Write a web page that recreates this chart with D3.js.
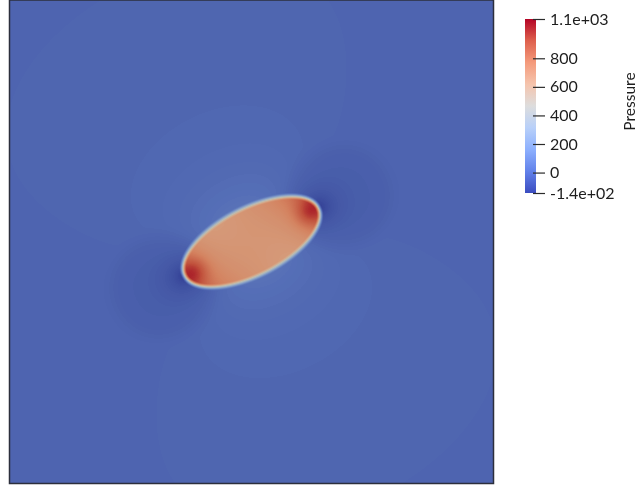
<!DOCTYPE html>
<html>
<head>
<meta charset="utf-8">
<script src="https://cdn.jsdelivr.net/npm/d3@7"></script>
<style>
  body { margin: 0; background: #fff; }
  #wrap { position: relative; width: 636px; height: 488px; }
  #wrap canvas, #wrap svg { position: absolute; left: 0; top: 0; }
</style>
</head>
<body>
<div id="wrap">
  <canvas id="field" width="636" height="488"></canvas>
  <svg id="chart" width="636" height="488"></svg>
</div>
<script>
// ParaView "Cool to Warm" colour map stops
const cmapPos = [0, 0.125, 0.25, 0.375, 0.5, 0.625, 0.75, 0.875, 1];
const cmapColors = ["#3b4cc0", "#6282ea", "#8db0fe", "#b8d0f9", "#dddddd",
                    "#f5c4ad", "#f49a7b", "#de604d", "#b40426"];

// pressure range shown on the colour bar + its ticks
const pRange = [-143, 1075];
const barTicks = [-143, 0, 200, 400, 600, 800, 1075];

// inclusion (domain is [-1,1] x [-1,1])
const ellipseCenter = [0, 0];
const ellipseAxes = [0.31, 0.14];   // semi-major, semi-minor
const ellipseAngle = 27;            // degrees, counter-clockwise

// pressure levels
const pBackground = -25;
const pInsideMid = 690;
const pInsideEnd = 920;
const pTipSpot = 1075;
const pTipLow = -143;
const pHaloLow = -18;
const pSideHigh = [40, 12];         // near lobe, far lobe

const svg = d3.select("#chart");
const plot = { left: 9.5, right: 493.5, top: 0, bottom: 483.5 };

const xs = d3.scaleLinear().domain([-1, 1]).range([plot.left, plot.right]);
const ys = d3.scaleLinear().domain([1, -1]).range([plot.top, plot.bottom]);

// colour lookup (256 entries, like the renderer's texture)
const cmap = d3.scaleLinear().domain(cmapPos).range(cmapColors).interpolate(d3.interpolateRgb);
const lut = d3.range(256).map(i => d3.rgb(cmap(i / 255)));
const shade = [0.87, 0.85, 0.78];   // lit surface is a little darker than the bar

const smooth = (e0, e1, x) => {
  const t = Math.max(0, Math.min(1, (x - e0) / (e1 - e0)));
  return t * t * (3 - 2 * t);
};

const [a, b] = ellipseAxes;
const th = ellipseAngle * Math.PI / 180;
const cs = Math.cos(th), sn = Math.sin(th);

function pressure(X, Y) {
  const dx = X - ellipseCenter[0], dy = Y - ellipseCenter[1];
  const u = dx * cs + dy * sn;
  const v = -dx * sn + dy * cs;
  const ru = u / a, rv = v / b;
  const rho = Math.sqrt(ru * ru + rv * rv) + 1e-9;
  const g = Math.sqrt((u / (a * a)) ** 2 + (v / (b * b)) ** 2) / rho + 1e-9;
  const d = (rho - 1) / g;                        // ~ signed distance to boundary

  // inside
  const s = Math.max(-1, Math.min(1, ru));
  let pin = pInsideMid + (pInsideEnd - pInsideMid) * s * s * Math.abs(s) + 90 * s * rv;
  const du = Math.abs(u) - 0.86 * a;
  pin += (pTipSpot - pInsideEnd) * Math.exp(-(du * du + v * v) / (2 * 0.04 * 0.04));

  // outside
  const dt = Math.hypot(Math.abs(u) - a, v);
  const dh = Math.hypot(Math.abs(u) - (a + 0.1), v);
  const w = (rv * rv) / (ru * ru + rv * rv + 1e-9);
  let pout = pBackground;
  pout += (pTipLow - pBackground) * Math.exp(-dt / 0.055) * (1 - w);
  pout += pHaloLow * (1 - smooth(0.16, 0.26, dh));
  const dd = Math.max(d, 0);
  pout += (pSideHigh[0] * Math.exp(-dd / 0.12) + pSideHigh[1] * Math.exp(-dd / 0.9)) * w * w;

  const k = 1 - smooth(-0.016, 0.016, d);
  return pout + (pin - pout) * k;
}

// paint the field
const ctx = document.getElementById("field").getContext("2d");
const x0 = Math.ceil(plot.left), x1 = Math.floor(plot.right);
const y0 = Math.ceil(plot.top), y1 = Math.floor(plot.bottom);
const img = ctx.createImageData(x1 - x0, y1 - y0);
for (let j = y0; j < y1; j++) {
  for (let i = x0; i < x1; i++) {
    const p = pressure(xs.invert(i + 0.5), ys.invert(j + 0.5));
    let t = (p - pRange[0]) / (pRange[1] - pRange[0]);
    t = Math.max(0, Math.min(1, t));
    const c = lut[Math.round(t * 255)];
    const o = ((j - y0) * (x1 - x0) + (i - x0)) * 4;
    img.data[o] = c.r * shade[0];
    img.data[o + 1] = c.g * shade[1];
    img.data[o + 2] = c.b * shade[2];
    img.data[o + 3] = 255;
  }
}
ctx.putImageData(img, x0, y0);

// frame
svg.append("rect")
  .attr("x", plot.left).attr("y", plot.top)
  .attr("width", plot.right - plot.left).attr("height", plot.bottom - plot.top)
  .attr("fill", "none").attr("stroke", "#2c2f3c").attr("stroke-width", 1.5);

// colour bar
const bar = { x: 525, width: 11, top: 19, bottom: 193 };
const barScale = d3.scaleLinear().domain(pRange).range([bar.bottom, bar.top]);

const grad = svg.append("defs").append("linearGradient")
  .attr("id", "cbar").attr("x1", 0).attr("y1", 1).attr("x2", 0).attr("y2", 0);
grad.selectAll("stop").data(cmapPos).join("stop")
  .attr("offset", d => d)
  .attr("stop-color", (d, i) => cmapColors[i]);

svg.append("rect")
  .attr("x", bar.x).attr("y", bar.top)
  .attr("width", bar.width).attr("height", bar.bottom - bar.top)
  .attr("fill", "url(#cbar)");

const fmt = v => (v === pRange[0] || v === pRange[1])
  ? v.toExponential(1).replace(/e([+-])(\d)$/, "e$10$2")
  : String(v);

const axisG = svg.append("g")
  .attr("transform", `translate(533,0)`)
  .call(d3.axisRight(barScale).tickValues(barTicks).tickSize(12).tickPadding(5).tickFormat(fmt));
axisG.select(".domain").remove();
axisG.selectAll(".tick line").attr("stroke", "#2b2b2b").attr("stroke-width", 1.2);
axisG.selectAll(".tick text")
  .attr("fill", "#1e1e1e")
  .style("font-family", "Lato, 'Open Sans', sans-serif")
  .style("font-size", "16px");

svg.append("text")
  .attr("transform", "translate(635,101.5) rotate(-90)")
  .attr("text-anchor", "middle")
  .attr("fill", "#1e1e1e")
  .style("font-family", "Lato, 'Open Sans', sans-serif")
  .style("font-size", "15.5px")
  .text("Pressure");
</script>
</body>
</html>
